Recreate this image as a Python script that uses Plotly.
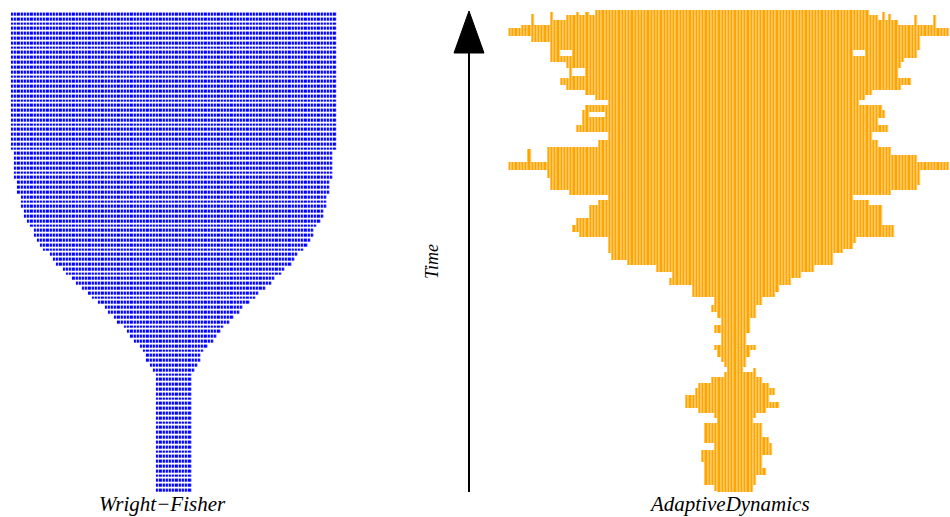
import plotly.graph_objects as go

# ---------------- Wright–Fisher: population size per generation (bottom = first generation)
wf_sizes = [
    11, 11, 11, 11, 11, 11, 11, 11, 11, 11, 11, 11, 11, 11, 11, 11, 11, 11, 11, 11,
    11, 11, 11, 11, 11,
    13, 15, 17, 17, 19, 21, 25, 27, 29, 31, 35, 37, 41, 43, 47, 51, 53, 57, 61, 63,
    67, 69, 73, 75, 77, 81, 83, 85, 87, 87, 89, 91, 93, 93, 95, 95, 95, 97, 97, 97,
    99, 99, 99, 99, 99, 99,
    101, 101, 101, 101, 101, 101, 101, 101, 101, 101, 101, 101, 101, 101, 101, 101,
    101, 101, 101, 101, 101, 101, 101, 101, 101, 101, 101, 101, 101,
]
wf_max = 101

# ---------------- Adaptive dynamics: occupied trait range over time
# each band starts at ad_time[i] and lasts until the next start (last one ends at ad_time_end)
ad_time = [
    0.0, 0.2, 1.5, 2.5, 3.5, 5.0, 6.2, 7.7, 8.7, 10.2,
    11.4, 12.9, 14.3, 15.4, 16.4, 17.4, 18.7, 20.1, 21.6, 22.6,
    23.9, 24.9, 25.9, 27.0, 28.0, 29.5, 30.5, 33.0, 34.6, 36.1,
    37.3, 38.8, 40.5, 41.5, 42.9, 44.4, 45.6, 47.1, 48.1, 49.6,
    50.4, 51.7, 52.9, 53.9, 55.4, 56.8, 58.1, 59.5, 60.6, 61.6,
    62.7, 63.7, 65.1, 66.8, 68.5, 69.9, 71.6, 73.0, 74.7, 76.1,
    77.6, 79.3, 80.3, 81.3, 82.4, 83.4, 84.4, 85.9, 88.0, 89.2,
    90.0, 91.7, 93.4, 94.6, 96.3, 96.9, 97.9, 99.0,
]
ad_time_end = 100.0
ad_left = [
    65, 64, 61, 61, 61, 61, 60, 60, 64, 61,
    61, 61, 65, 64, 59, 55, 55, 58, 59, 63,
    67, 68, 67, 66, 65, 64, 66, 64, 66, 65,
    63, 64, 57, 57, 50, 51, 46, 37, 32, 31,
    31, 31, 22, 20, 21, 25, 25, 28, 31, 19,
    13, 13, 12, 0, 12, 12, 28, 31, 21, 23,
    23, 24, 31, 27, 24, 18, 16, 19, 18, 13,
    13, 13, 7, 0, 4, 14, 18, 27,
]
ad_right = [
    75, 75, 76, 76, 79, 78, 78, 81, 81, 80,
    78, 78, 75, 76, 79, 83, 80, 82, 80, 78,
    76, 72, 73, 73, 74, 76, 73, 74, 74, 76,
    76, 78, 82, 83, 87, 90, 94, 100, 100, 103,
    106, 107, 119, 119, 115, 115, 115, 111, 106, 118,
    126, 127, 127, 136, 126, 118, 114, 112, 117, 114,
    116, 115, 108, 110, 112, 121, 124, 120, 121, 122,
    126, 127, 127, 136, 132, 120, 114, 111,
]
ad_traits = 137

# single lineages that stick out of the main body: trait column, start, end
spike_col = [7, 13, 21, 24, 116, 118, 126, 132, 6, 12, 121, 76]
spike_t0 = [94.2, 96.5, 97.3, 97.9, 96.5, 96.2, 95.5, 95.5, 66.8, 65.6, 64.5, 22.6]
spike_t1 = [99.2, 99.6, 99.6, 99.6, 99.6, 99.2, 99.0, 98.9, 71.2, 70.6, 70.0, 25.7]

# empty pockets inside the body: column range and time range
hole_c0 = [16, 20, 25, 107]
hole_c1 = [19, 23, 29, 110]
hole_t0 = [90.5, 86.3, 77.8, 90.5]
hole_t1 = [91.7, 87.9, 78.8, 91.7]

panel_labels = ["Wright\u2212Fisher", "AdaptiveDynamics"]
axis_label = "Time"

# ---------------- grids
wf_cols = list(range(wf_max))
wf_gens = list(range(len(wf_sizes)))
wf_z = []
for n in wf_sizes:
    lo = (wf_max - n) // 2
    wf_z.append([1 if lo <= c < lo + n else None for c in wf_cols])

ad_cols = list(range(ad_traits))
band_hi = ad_time[1:] + [ad_time_end]
ad_edges = sorted(set(ad_time + [ad_time_end] + spike_t0 + spike_t1 + hole_t0 + hole_t1))
ad_z = []
for a, b in zip(ad_edges[:-1], ad_edges[1:]):
    m = 0.5 * (a + b)
    row = [None] * ad_traits
    for t0, t1, lo, hi in zip(ad_time, band_hi, ad_left, ad_right):
        if t0 <= m < t1:
            for c in range(lo, hi + 1):
                row[c] = 1
    for c, t0, t1 in zip(spike_col, spike_t0, spike_t1):
        if t0 <= m < t1:
            row[c] = 1
    for c0, c1, t0, t1 in zip(hole_c0, hole_c1, hole_t0, hole_t1):
        if t0 <= m < t1:
            for c in range(c0, c1 + 1):
                row[c] = None
    ad_z.append(row)


def solid(color):
    return [[0, color], [1, color]]


fig = go.Figure()

# Wright–Fisher individuals
fig.add_trace(go.Heatmap(
    x=wf_cols, y=wf_gens, z=wf_z, zmin=0, zmax=1,
    colorscale=solid("#B4B4FF"), showscale=False, hoverinfo="skip",
    xgap=0, ygap=2, xaxis="x", yaxis="y"))
fig.add_trace(go.Heatmap(
    x=wf_cols, y=wf_gens, z=wf_z, zmin=0, zmax=1,
    colorscale=solid("#0000FF"), showscale=False, hoverinfo="skip",
    xgap=1.1, ygap=2, xaxis="x", yaxis="y"))

# Adaptive dynamics lineages
fig.add_trace(go.Heatmap(
    x=ad_cols, y=ad_edges, z=ad_z, zmin=0, zmax=1,
    colorscale=solid("#FFE0A6"), showscale=False, hoverinfo="skip",
    xaxis="x2", yaxis="y2"))
fig.add_trace(go.Heatmap(
    x=ad_cols, y=ad_edges, z=ad_z, zmin=0, zmax=1,
    colorscale=solid("#FFA500"), showscale=False, hoverinfo="skip",
    xgap=1, xaxis="x2", yaxis="y2"))

W, H = 950, 517


def px(x):
    return x / W


def py(y):
    return 1 - y / H


hidden = dict(visible=False, showgrid=False, zeroline=False, fixedrange=True)

label_font = dict(family="Liberation Serif, Times New Roman, serif", size=21,
                  color="black", style="italic")

fig.update_layout(
    width=W, height=H, autosize=False,
    margin=dict(l=0, r=0, t=0, b=0),
    paper_bgcolor="white", plot_bgcolor="white",
    showlegend=False,
    xaxis=dict(hidden, domain=[px(10.9), px(336.6)], range=[-0.5, wf_max - 0.5]),
    yaxis=dict(hidden, domain=[py(492.4), py(11.6)], range=[-0.5, len(wf_sizes) - 0.5]),
    xaxis2=dict(hidden, domain=[px(508.4), px(949.6)], range=[-0.5, ad_traits - 0.5]),
    yaxis2=dict(hidden, domain=[py(492), py(10)], range=[0, ad_time_end]),
    shapes=[
        dict(type="line", xref="paper", yref="paper",
             x0=px(469), x1=px(469), y0=py(492), y1=py(48),
             line=dict(color="black", width=2)),
        dict(type="path", xref="paper", yref="paper",
             path=f"M {px(469)} {py(11)} L {px(484)} {py(53)} L {px(454)} {py(53)} Z",
             fillcolor="black", line=dict(color="black", width=1)),
    ],
    annotations=[
        dict(text=panel_labels[0], x=px(162.5), y=py(504), xref="paper", yref="paper",
             showarrow=False, font=label_font, xanchor="center", yanchor="middle"),
        dict(text=panel_labels[1], x=px(729.5), y=py(504), xref="paper", yref="paper",
             showarrow=False, font=label_font, xanchor="center", yanchor="middle"),
        dict(text=axis_label, x=px(432), y=py(262), xref="paper", yref="paper",
             showarrow=False, textangle=-90,
             font=dict(label_font, size=18), xanchor="center", yanchor="middle"),
    ],
)

fig.write_html("out.html")
